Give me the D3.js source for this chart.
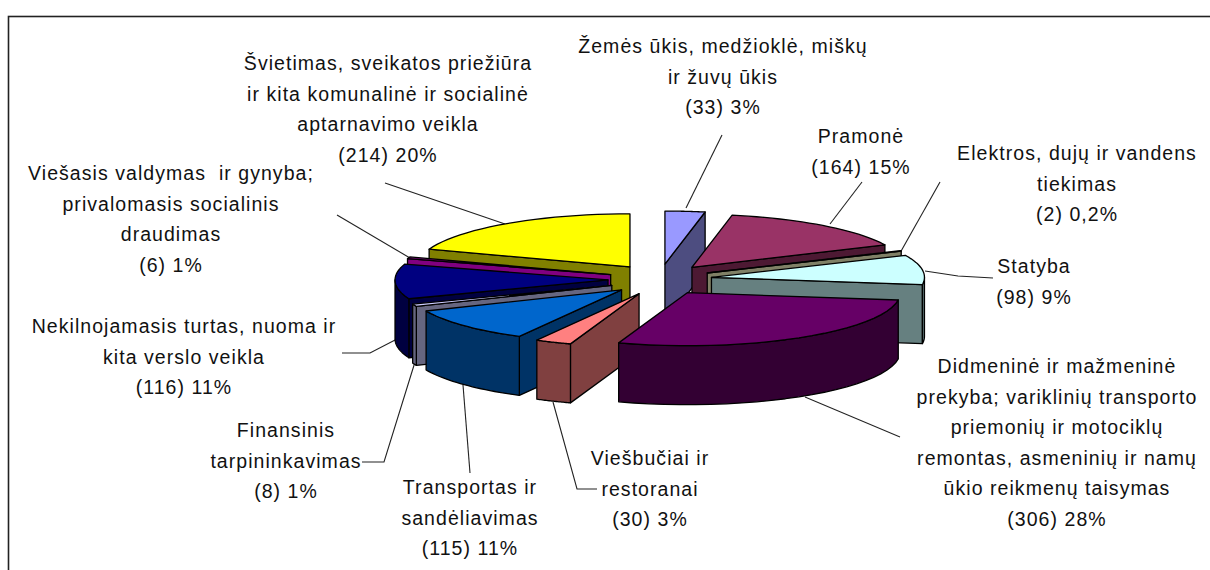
<!DOCTYPE html>
<html><head><meta charset="utf-8">
<script src="https://cdn.jsdelivr.net/npm/d3@7"></script>
<style>html,body{margin:0;padding:0;background:#fff}svg{display:block}
text{font-family:"Liberation Sans",Arial,sans-serif;font-size:19.5px;letter-spacing:1.05px;fill:#111;white-space:pre}</style>
</head><body><svg id="c" width="1210" height="570"></svg>
<script>
const categories = ["Žemės ūkis","Pramonė","Elektros","Statyba","Didmeninė","Viešbučiai","Transportas","Finansinis","Nekilnojamas","Viešasis","Švietimas"];
const values = [33,164,2,98,306,30,115,8,116,6,214];
const topColors = ["#9999FF","#993366","#FFFFCC","#CCFFFF","#660066","#FF8080","#0066CC","#CCCCFF","#000080","#800080","#FFFF00"];
const sideColors = ["#4D4D80","#4D1933","#808066","#668080","#330033","#804040","#003366","#666680","#000040","#800080","#808000"];
const labelLines = [
 ["Žemės ūkis, medžioklė, miškų","ir žuvų ūkis","(33) 3%"],
 ["Pramonė","(164) 15%"],
 ["Elektros, dujų ir vandens","tiekimas","(2) 0,2%"],
 ["Statyba","(98) 9%"],
 ["Didmeninė ir mažmeninė","prekyba; variklinių transporto","priemonių ir motociklų","remontas, asmeninių ir namų","ūkio reikmenų taisymas","(306) 28%"],
 ["Viešbučiai ir","restoranai","(30) 3%"],
 ["Transportas ir","sandėliavimas","(115) 11%"],
 ["Finansinis","tarpininkavimas","(8) 1%"],
 ["Nekilnojamasis turtas, nuoma ir","kita verslo veikla","(116) 11%"],
 ["Viešasis valdymas  ir gynyba;","privalomasis socialinis","draudimas","(6) 1%"],
 ["Švietimas, sveikatos priežiūra","ir kita komunalinė ir socialinė","aptarnavimo veikla","(214) 20%"]
];
// label block: centre x, first baseline y
const labelPos = [[723,53],[861,143],[1077,160],[1034,273],[1057,373],[650,465],[470,494],[286,437],[184,333],[171,180],[388,70]];
// leader polylines, label side first; the last point sits on the pie edge
const leaders = [
 [[722,135],[686,208]],[[862,182],[830,224]],[[940,182],[900,253]],
 [[993,278],[958,276],[925,271]],[[900,437],[805,397]],[[597,489],[577,489],[553,402]],
 [[470,473],[463,385]],[[362,462],[384,462],[415,362]],[[342,353],[370,353],[397,339]],
 [[337,215],[410,258]],[[385,183],[505,224]]
];
const L = {cx:660, cy:279.5, rx:213, ry:53, ex:52, ey:15.5, depth:59};
const order = [0,10,1,2,3,9,8,7,6,5,4];
const svg = d3.select("#c");
svg.append("rect").attr("x",8.5).attr("y",16.5).attr("width",1300).attr("height",700).attr("fill","#fff").attr("stroke","#222").attr("stroke-width",1.6);

const arcs = d3.pie().sort(null).startAngle(0).endAngle(2*Math.PI)(values);
const sx = d3.scaleLinear().domain([-1,1]).range([L.cx-L.rx,L.cx+L.rx]);
const sy = d3.scaleLinear().domain([-1,1]).range([L.cy+L.ry,L.cy-L.ry]);
const line = d3.line();
svg.append("g").selectAll("path").data(leaders).join("path").attr("d",d=>line(d)).attr("fill","none").attr("stroke","#222").attr("stroke-width",1.1);
const g = svg.append("g").attr("stroke","#000").attr("stroke-width",1.3).attr("stroke-linejoin","round");
order.forEach(i=>{
  const d=arcs[i], mid=(d.startAngle+d.endAngle)/2;
  const ox=L.ex*Math.sin(mid), oy=-L.ey*Math.cos(mid);
  const P=(a,dz=0)=>[sx(Math.sin(a))+ox, sy(Math.cos(a))+oy+dz];
  const A=(dz=0)=>[L.cx+ox, L.cy+oy+dz];
  const pg=[];
  const arcPts=(a0,a1,dz)=>d3.range(0,25).map(k=>P(a0+(a1-a0)*k/24,dz));
  // radial faces that look towards the viewer
  if(Math.sin(d.startAngle)<0) pg.push([A(),P(d.startAngle),P(d.startAngle,L.depth),A(L.depth)]);
  if(Math.sin(d.endAngle)>0) pg.push([A(),P(d.endAngle),P(d.endAngle,L.depth),A(L.depth)]);
  // outer rim, front half only
  const a0=Math.max(d.startAngle,Math.PI/2), a1=Math.min(d.endAngle,3*Math.PI/2);
  if(a1>a0) pg.push(arcPts(a0,a1,0).concat(arcPts(a1,a0,L.depth)));
  pg.forEach(p=>g.append("path").attr("d",line(p)+"Z").attr("fill",sideColors[i]));
  g.append("path").attr("d",line([A()].concat(arcPts(d.startAngle,d.endAngle,0)))+"Z").attr("fill",topColors[i]);
});
labelLines.forEach((ls,i)=>{
  const t=svg.append("text").attr("text-anchor","middle");
  ls.forEach((s,k)=>t.append("tspan").attr("x",labelPos[i][0]).attr("y",labelPos[i][1]+k*30.6).text(s));
});
</script></body></html>
